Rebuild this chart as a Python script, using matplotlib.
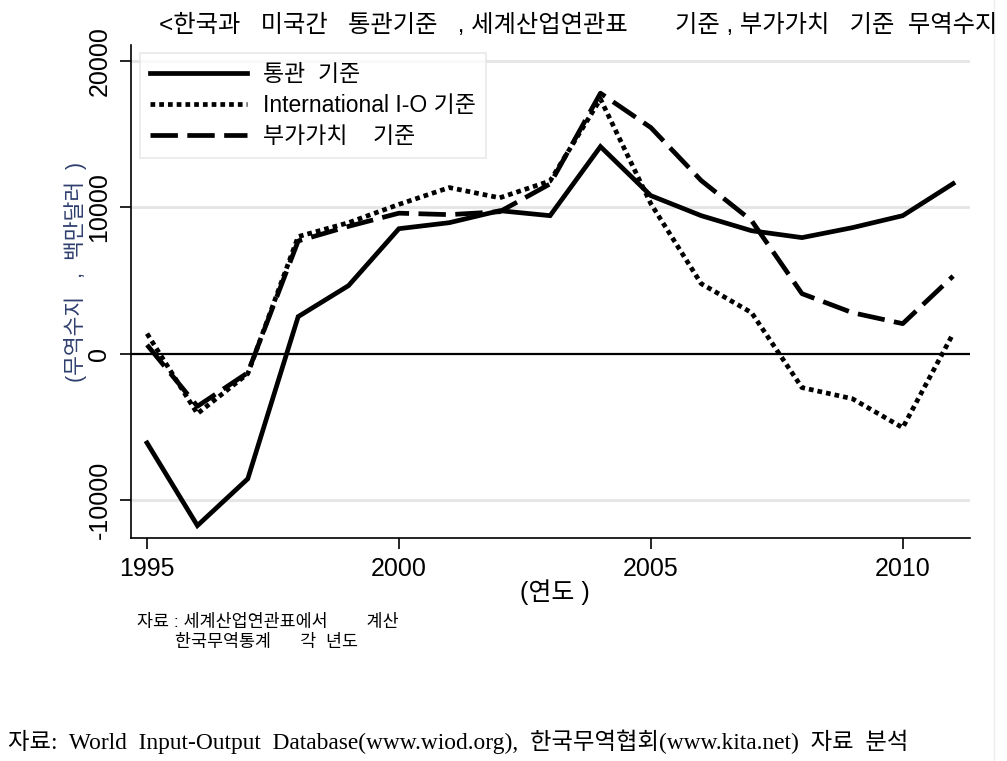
import matplotlib
matplotlib.use('Agg')
import matplotlib.pyplot as plt
from matplotlib.lines import Line2D

plt.rcParams['font.family'] = ['Liberation Sans', 'Noto Sans CJK KR', 'DejaVu Sans']
plt.rcParams['axes.unicode_minus'] = False

# 연도와 세 가지 기준의 한미 무역수지 (백만달러)
years = list(range(1995, 2012))
customs = [-6100, -11750, -8550, 2530, 4650, 8540, 8950, 9770, 9430, 14150,
           10800, 9430, 8400, 7930, 8610, 9430, 11620]
intl_io = [1370, -4100, -1370, 8000, 8950, 10200, 11350, 10650, 11800, 17400,
           10250, 4780, 2800, -2320, -3080, -5060, 1370]
value_added = [600, -3600, -1300, 7700, 8700, 9600, 9500, 9700, 11600, 17800,
               15450, 11830, 9090, 4100, 2800, 2050, 5300]

labels = ['통관  기준', 'International I-O 기준', '부가가치    기준']
x_ticks = [1995, 2000, 2005, 2010]
y_ticks = [-10000, 0, 10000, 20000]

title = '<한국과   미국간   통관기준   , 세계산업연관표       기준 , 부가가치   기준  무역수지'
note1 = '자료 : 세계산업연관표에서        계산'
note2 = '한국무역통계      각  년도'
source = '자료:  World  Input-Output  Database(www.wiod.org),  한국무역협회(www.kita.net)  자료  분석'

fig = plt.figure(figsize=(10.07, 7.61), dpi=100)
ax = fig.add_axes([0.130, 0.293, 0.833, 0.648])

for y in [-10000, 10000, 20000]:
    ax.axhline(y, color='#e6e6e6', lw=2.2, zorder=0)
ax.axhline(0, color='black', lw=1.6, zorder=1)

lw = 3.4
ax.plot(years, customs, color='black', lw=lw, solid_joinstyle='miter', label=labels[0])
ax.plot(years, intl_io, color='black', lw=lw, linestyle=(0, (1.0, 0.85)), label=labels[1])
ax.plot(years, value_added, color='black', lw=lw, linestyle=(0, (5.8, 2.0)), label=labels[2])

ax.set_xlim(1994.68, 2011.33)
ax.set_ylim(-12600, 21100)
ax.set_xticks(x_ticks)
ax.set_yticks(y_ticks)
ax.set_yticklabels(['-10000', '0', '10000', '20000'])
ax.tick_params(axis='both', direction='out', length=8, width=1.2, labelsize=18, pad=6)
for lab in ax.get_yticklabels():
    lab.set_rotation(90)
    lab.set_va('center')
for side in ['top', 'right']:
    ax.spines[side].set_visible(False)
for side in ['left', 'bottom']:
    ax.spines[side].set_linewidth(1.2)

leg = ax.legend(loc='upper left', bbox_to_anchor=(0.011, 0.984), borderaxespad=0,
                fontsize=16.5, handlelength=4.2, handletextpad=0.7, labelspacing=0.35,
                frameon=True, fancybox=False, borderpad=0.45)
leg.get_frame().set_edgecolor('#e3e3e3')
leg.get_frame().set_linewidth(1.2)

fig.text(0.551, 0.222, '(연도 )', ha='center', va='center', fontsize=18)
fig.text(0.075, 0.643, '(무역수지   ,  백만달러  )', rotation=90, ha='center', va='center',
         fontsize=15.5, color='#2e3f6e')
fig.text(0.158, 0.966, title, ha='left', va='center', fontsize=17.5)
fig.text(0.136, 0.183, note1, ha='left', va='center', fontsize=12.5)
fig.text(0.174, 0.157, note2, ha='left', va='center', fontsize=12.5)
fig.text(0.008, 0.025, source, ha='left', va='center', fontsize=16.8,
         family=['Liberation Serif', 'Noto Sans CJK KR'])
fig.add_artist(Line2D([0.987, 0.987], [0.0, 1.0], color='#eeeeee', lw=1))

fig.savefig('out.png', dpi=100)
